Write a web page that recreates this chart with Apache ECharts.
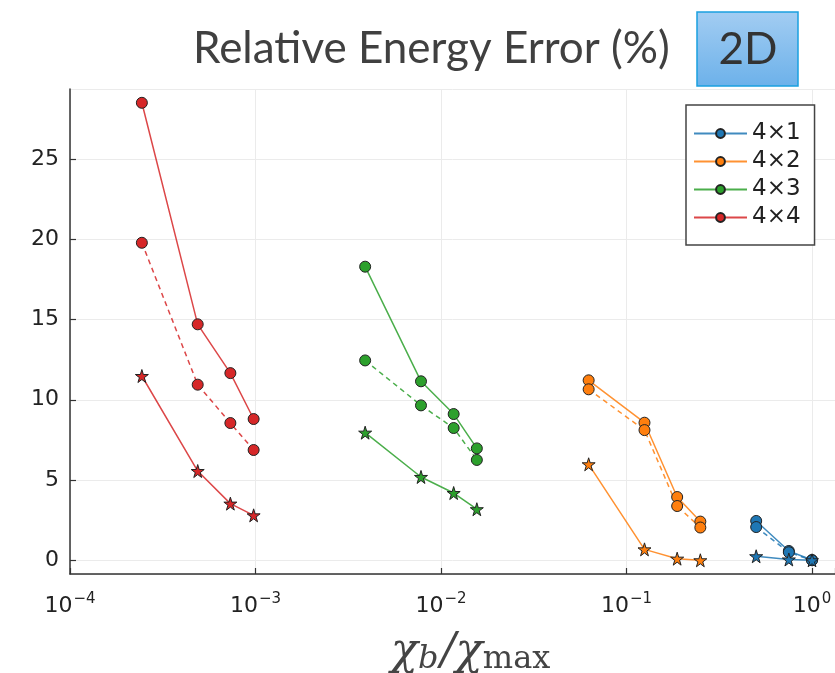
<!DOCTYPE html>
<html lang="en" style="height: 100%">
<head>
  <meta charset="utf-8">
</head>
<body style="height: 100%; margin: 0; background: #fff">
  <div id="container" style="width: 835px; height: 673px"></div>

  <script type="text/javascript" src="https://cdn.jsdelivr.net/npm/echarts@6/dist/echarts.min.js"></script>
  <script type="text/javascript">
    // bond dimension ratio per cluster
    var x4x1 = [0.5, 0.75, 1.0];
    var x4x2 = [0.0625, 0.125, 0.1875, 0.25];
    var x4x3 = [0.0039, 0.0078, 0.0117, 0.0156];
    var x4x4 = [0.000244, 0.000488, 0.000732, 0.000977];

    // relative energy error (%) : solid, dashed, stars
    var solid4x1 = [2.45, 0.58, 0.02];
    var dashed4x1 = [2.07, 0.5, 0.0];
    var star4x1 = [0.25, 0.05, 0.0];

    var solid4x2 = [11.21, 8.57, 3.94, 2.41];
    var dashed4x2 = [10.65, 8.11, 3.38, 2.04];
    var star4x2 = [5.98, 0.68, 0.1, 0.0];

    var solid4x3 = [18.29, 11.15, 9.11, 6.97];
    var dashed4x3 = [12.45, 9.65, 8.24, 6.25];
    var star4x3 = [7.95, 5.19, 4.19, 3.18];

    var solid4x4 = [28.5, 14.7, 11.66, 8.8];
    var dashed4x4 = [19.78, 10.94, 8.55, 6.87];
    var star4x4 = [11.48, 5.56, 3.53, 2.8];

    var names = ['4×1', '4×2', '4×3', '4×4'];
    var colors = ['#1f77b4', '#ff7f0e', '#2ca02c', '#d62728'];

    var STAR = 'path://M50,0 L61,35 L98,35 L68,57 L79,91 L50,70 L21,91 L32,57 L2,35 L39,35 Z';

    function zip(xs, ys) {
      return xs.map(function (x, i) { return [x, ys[i]]; });
    }

    var groups = [
      [x4x1, solid4x1, dashed4x1, star4x1],
      [x4x2, solid4x2, dashed4x2, star4x2],
      [x4x3, solid4x3, dashed4x3, star4x3],
      [x4x4, solid4x4, dashed4x4, star4x4]
    ];

    var series = [];
    groups.forEach(function (g, k) {
      var c = colors[k];
      var base = {
        type: 'line',
        color: c,
        symbol: 'circle',
        symbolSize: 11,
        itemStyle: { color: c, borderColor: '#222', borderWidth: 1 },
        lineStyle: { color: c, width: 1.5, opacity: 0.85 },
        emphasis: { disabled: true },
        z: 3
      };
      series.push(Object.assign({}, base, { name: names[k], data: zip(g[0], g[1]) }));
      series.push(Object.assign({}, base, {
        name: names[k] + ' dashed',
        data: zip(g[0], g[2]),
        lineStyle: { color: c, width: 1.5, opacity: 0.85, type: [5, 4] }
      }));
      series.push(Object.assign({}, base, {
        name: names[k] + ' star',
        symbol: STAR,
        symbolSize: 13,
        data: zip(g[0], g[3])
      }));
    });

    var dom = document.getElementById('container');
    var myChart = echarts.init(dom, null, { renderer: 'canvas' });

    var option = {
      animation: false,
      backgroundColor: '#fff',
      title: {
        text: 'Relative Energy Error (%)',
        left: 188,
        top: 22,
        textStyle: { fontFamily: 'Lato', fontSize: 44, fontWeight: 'normal', color: '#404040' }
      },
      graphic: [
        {
          type: 'rect',
          shape: { x: 697, y: 12, width: 101, height: 74 },
          style: {
            fill: new echarts.graphic.LinearGradient(0, 0, 0, 1, [
              { offset: 0, color: '#a3cdf2' },
              { offset: 1, color: '#6cb1ea' }
            ]),
            stroke: '#1aa0e0',
            lineWidth: 1.5
          }
        },
        {
          type: 'text',
          x: 748,
          y: 50,
          style: {
            text: '2D',
            fontFamily: 'Lato',
            fontSize: 44,
            fill: '#333',
            align: 'center',
            verticalAlign: 'middle'
          }
        }
      ],
      legend: {
        data: names,
        orient: 'vertical',
        left: 686,
        top: 105,
        itemWidth: 53,
        itemHeight: 11,
        itemGap: 5,
        padding: [17, 14, 16, 7],
        backgroundColor: '#fff',
        borderColor: '#444',
        borderWidth: 1.5,
        borderRadius: 0,
        textStyle: { fontFamily: 'DejaVu Sans', fontSize: 23, color: '#222' }
      },
      grid: { left: 70, right: 0, top: 89, bottom: 99, containLabel: false, outerBoundsMode: 'none' },
      xAxis: {
        type: 'log',
        logBase: 10,
        min: 0.0001,
        max: 1.33,
        name: '{i|χ}{isub|b}{i|/χ}{sub|max}',
        nameLocation: 'middle',
        nameGap: 54,
        nameTextStyle: {
          padding: [0, 0, 0, 36],
          rich: {
            i: { fontFamily: 'DejaVu Serif', fontStyle: 'italic', fontSize: 45, color: '#444' },
            isub: { fontFamily: 'DejaVu Serif', fontStyle: 'italic', fontSize: 32, color: '#444', padding: [16, 2, 0, 0] },
            sub: { fontFamily: 'DejaVu Serif', fontSize: 32, color: '#444', padding: [16, 0, 0, 0] }
          }
        },
        axisLine: { show: true, onZero: false, lineStyle: { color: '#333', width: 1.5 } },
        axisTick: { inside: true, length: 6, lineStyle: { color: '#333', width: 1.2 } },
        splitLine: { show: true, lineStyle: { color: '#ebebeb', width: 1 } },
        minorTick: { show: false },
        axisLabel: {
          margin: 18,
          formatter: function (v) {
            var e = Math.log10(v);
            if (Math.abs(e - Math.round(e)) > 0.01) return '';
            e = Math.round(e);
            var s = e < 0 ? '−' + (-e) : '' + e;
            return '{b|10}{s|' + s + '}';
          },
          rich: {
            b: { fontFamily: 'DejaVu Sans', fontSize: 22, color: '#222' },
            s: { fontFamily: 'DejaVu Sans', fontSize: 15, color: '#222', padding: [0, 0, 14, 1] }
          }
        }
      },
      yAxis: {
        type: 'value',
        min: -0.855,
        max: 29.36,
        splitNumber: 6,
        axisLine: { show: true, onZero: false, lineStyle: { color: '#333', width: 1.5 } },
        axisTick: { inside: true, length: 6, lineStyle: { color: '#333', width: 1.2 } },
        splitLine: { show: true, lineStyle: { color: '#ebebeb', width: 1 } },
        axisLabel: {
          margin: 11,
          showMinLabel: false,
          showMaxLabel: false,
          fontFamily: 'DejaVu Sans',
          fontSize: 22,
          color: '#222'
        }
      },
      series: series
    };

    myChart.setOption(option);
    window.addEventListener('resize', myChart.resize);
  </script>
</body>
</html>
